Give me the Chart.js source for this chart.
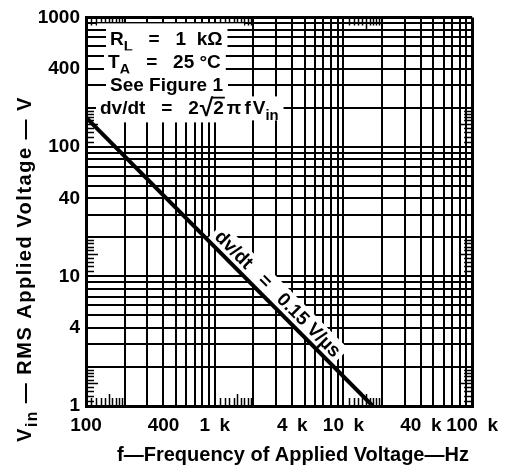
<!DOCTYPE html>
<html>
<head>
<meta charset="utf-8">
<script src="https://cdn.jsdelivr.net/npm/chart.js@4.4.1/dist/chart.umd.min.js"></script>
<style>
  html, body { margin:0; padding:0; background:#fff; }
  #wrap { width:506px; height:468px; }
</style>
</head>
<body>
<div id="wrap"><canvas id="chartVin"></canvas></div>
<script>
// === Data ===
const freqHz = [100, 16900];
const vinRms = [169, 1];

// === Tick labels ===
const xTickVals = [100, 400, 1000, 4000, 10000, 40000, 100000];
const xTickText = ['100', '400', '1\u2002k', '4\u2002k', '10\u2002k', '40\u2002k', '100\u2002k'];
const yTickVals = [1, 4, 10, 40, 100, 400, 1000];
const yTickText = ['1', '4', '10', '40', '100', '400', '1000'];

// === Annotation text ===  [text, kind, gapAfter]
const noteLines = [
  [['R', ''], ['L', 'sub'], ['   =   1  kΩ', '']],
  [['T', ''], ['A', 'sub'], ['   =   25 °C', '']],
  [['See Figure 1', '']],
  [['dv/dt   =   2', '', 1], ['√', 'big'], ['2', 'over', 3], ['π', '', 3], ['f', '', 2], ['V', ''], ['in', 'sub']]
];
const slopeLabel = 'dv/dt   =   0.15 V/µs';
const xTitle = [['f—Frequency of Applied Voltage—Hz', '']];
const yTitle = [['V', ''], ['in', 'sub'], [' — RMS Applied Voltage — V', '']];

const FONT = '"Liberation Sans", Arial, sans-serif';

// grid lines at 1..9 of every decade
function decades(lo, hi){
  const out = [];
  for (let d = lo; d < hi; d *= 10)
    for (let m = 1; m < 10; m++) out.push(m * d);
  out.push(hi);
  return out;
}

// draws a list of [text, kind, gap] runs, returns width
function drawRuns(ctx, runs, x, y, size, draw){
  let cx = x;
  runs.forEach(([t, kind, gap]) => {
    const s = kind === 'sub' ? size * 0.78 : kind === 'big' ? size * 1.3 : size;
    ctx.font = `bold ${s}px ${FONT}`;
    const w = ctx.measureText(t).width;
    if (draw){
      const dy = kind === 'sub' ? size * 0.32 : kind === 'big' ? size * 0.08 : 0;
      ctx.fillText(t, cx, y + dy);
      if (kind === 'over') ctx.fillRect(cx - 1, y - size * 0.93, w + 2, 1.8);
    }
    cx += w + (gap || 0);
  });
  return cx - x;
}

const notesPlugin = {
  id: 'notes',
  beforeDatasetsDraw(chart){
    const ctx = chart.ctx, a = chart.chartArea, xs = chart.scales.x, ys = chart.scales.y;
    ctx.save();

    // short 1.1 .. 1.9 subdivision ticks on all four edges
    ctx.strokeStyle = '#000';
    ctx.lineWidth = 1.5;
    [100, 1000, 10000].forEach(d => {
      for (let k = 1; k < 10; k++){
        const px = Math.round(xs.getPixelForValue(d * (1 + k / 10))) + 0.5;
        const len = k === 5 ? 12 : 8;
        ctx.beginPath();
        ctx.moveTo(px, a.bottom); ctx.lineTo(px, a.bottom - len);
        ctx.moveTo(px, a.top); ctx.lineTo(px, a.top + len);
        ctx.stroke();
      }
    });
    [1, 10, 100].forEach(d => {
      for (let k = 1; k < 10; k++){
        const py = Math.round(ys.getPixelForValue(d * (1 + k / 10))) + 0.5;
        const len = k === 5 ? 12 : 8;
        ctx.beginPath();
        ctx.moveTo(a.left, py); ctx.lineTo(a.left + len, py);
        ctx.moveTo(a.right, py); ctx.lineTo(a.right - len, py);
        ctx.stroke();
      }
    });

    ctx.textBaseline = 'alphabetic';
    ctx.textAlign = 'left';
    const size = 19;
    const left = a.left + 11, blockR = a.left + 158;
    // white block over the grid
    ctx.fillStyle = '#fff';
    ctx.fillRect(left, a.top + 6, blockR - left, 99);
    // horizontal lines come back through the block
    ctx.lineWidth = 2;
    decades(100, 1000).forEach(v => {
      const py = Math.round(ys.getPixelForValue(v));
      if (py > a.top + 6 && py < a.top + 105){
        ctx.beginPath(); ctx.moveTo(left, py); ctx.lineTo(blockR, py); ctx.stroke();
      }
    });
    const bases = [28, 51, 74, 97];
    const starts = [24, 22, 24, 14];
    noteLines.forEach((runs, i) => {
      const bx = a.left + starts[i], by = a.top + bases[i];
      const w = drawRuns(ctx, runs, bx, by, size, false);
      ctx.fillStyle = '#fff';
      ctx.fillRect(bx - 4, by - 18, w + 9, 24);
      ctx.fillStyle = '#000';
      drawRuns(ctx, runs, bx, by, size, true);
    });

    // label along the line
    const pts = chart.getDatasetMeta(0).data;
    const p0 = pts[0], p1 = pts[1];
    const ang = Math.atan2(p1.y - p0.y, p1.x - p0.x);
    const t = 0.64;
    const mx = p0.x + (p1.x - p0.x) * t + Math.sin(ang) * 12;
    const my = p0.y + (p1.y - p0.y) * t - Math.cos(ang) * 12;
    ctx.translate(mx, my);
    ctx.rotate(ang);
    ctx.font = `bold ${size}px ${FONT}`;
    ctx.textAlign = 'center';
    ctx.textBaseline = 'middle';
    const lw = ctx.measureText(slopeLabel).width;
    ctx.fillStyle = '#fff';
    ctx.fillRect(-lw / 2 - 4, -11, lw + 8, 22);
    ctx.fillStyle = '#000';
    ctx.fillText(slopeLabel, 0, 1);
    ctx.restore();
  },
  afterDraw(chart){
    const ctx = chart.ctx;
    ctx.save();
    ctx.fillStyle = '#000';
    ctx.textAlign = 'left';
    ctx.textBaseline = 'alphabetic';
    const size = 20;
    // x title
    const wx = drawRuns(ctx, xTitle, 0, 0, size, false);
    drawRuns(ctx, xTitle, 293 - wx / 2, 461, size, true);
    // y title (rotated, a little letter-spaced like the original)
    if ('letterSpacing' in ctx) ctx.letterSpacing = '1.5px';
    const wy = drawRuns(ctx, yTitle, 0, 0, size, false);
    ctx.translate(31, 269);
    ctx.rotate(-Math.PI / 2);
    drawRuns(ctx, yTitle, -wy / 2, 0, size, true);
    ctx.restore();
  }
};

const edgeWidth = (edges) => (c) => edges.includes(c.tick && c.tick.value) ? 3 : 2;

new Chart(document.getElementById('chartVin'), {
  type: 'scatter',
  data: {
    datasets: [{
      data: freqHz.map((f, i) => ({ x: f, y: vinRms[i] })),
      showLine: true,
      borderColor: '#000',
      borderWidth: 4,
      pointRadius: 0
    }]
  },
  options: {
    responsive: true, maintainAspectRatio: false,
    animation: false,
    events: [],
    layout: { padding: { top: 13, right: 31, left: 0, bottom: 0 } },
    plugins: { legend: { display: false }, tooltip: { enabled: false } },
    scales: {
      x: {
        type: 'logarithmic', min: 100, max: 100000,
        afterBuildTicks: s => { s.ticks = decades(100, 100000).map(v => ({ value: v })); },
        afterFit: s => { s.height = 62; },
        grid: { color: '#000', lineWidth: edgeWidth([100, 100000]), drawTicks: false },
        border: { color: '#000', width: 3 },
        ticks: {
          autoSkip: false, maxRotation: 0, padding: 8, color: '#000',
          font: { family: FONT, size: 19, weight: 'bold' },
          callback: v => { const i = xTickVals.indexOf(v); return i < 0 ? '' : xTickText[i]; }
        }
      },
      y: {
        type: 'logarithmic', min: 1, max: 1000,
        afterBuildTicks: s => { s.ticks = decades(1, 1000).map(v => ({ value: v })); },
        afterFit: s => { s.width = 86; },
        grid: { color: '#000', lineWidth: edgeWidth([1, 1000]), drawTicks: false },
        border: { color: '#000', width: 3 },
        ticks: {
          autoSkip: false, padding: 6, color: '#000',
          font: { family: FONT, size: 19, weight: 'bold' },
          callback: v => { const i = yTickVals.indexOf(v); return i < 0 ? '' : yTickText[i]; }
        }
      }
    }
  },
  plugins: [notesPlugin]
});
</script>
</body>
</html>
